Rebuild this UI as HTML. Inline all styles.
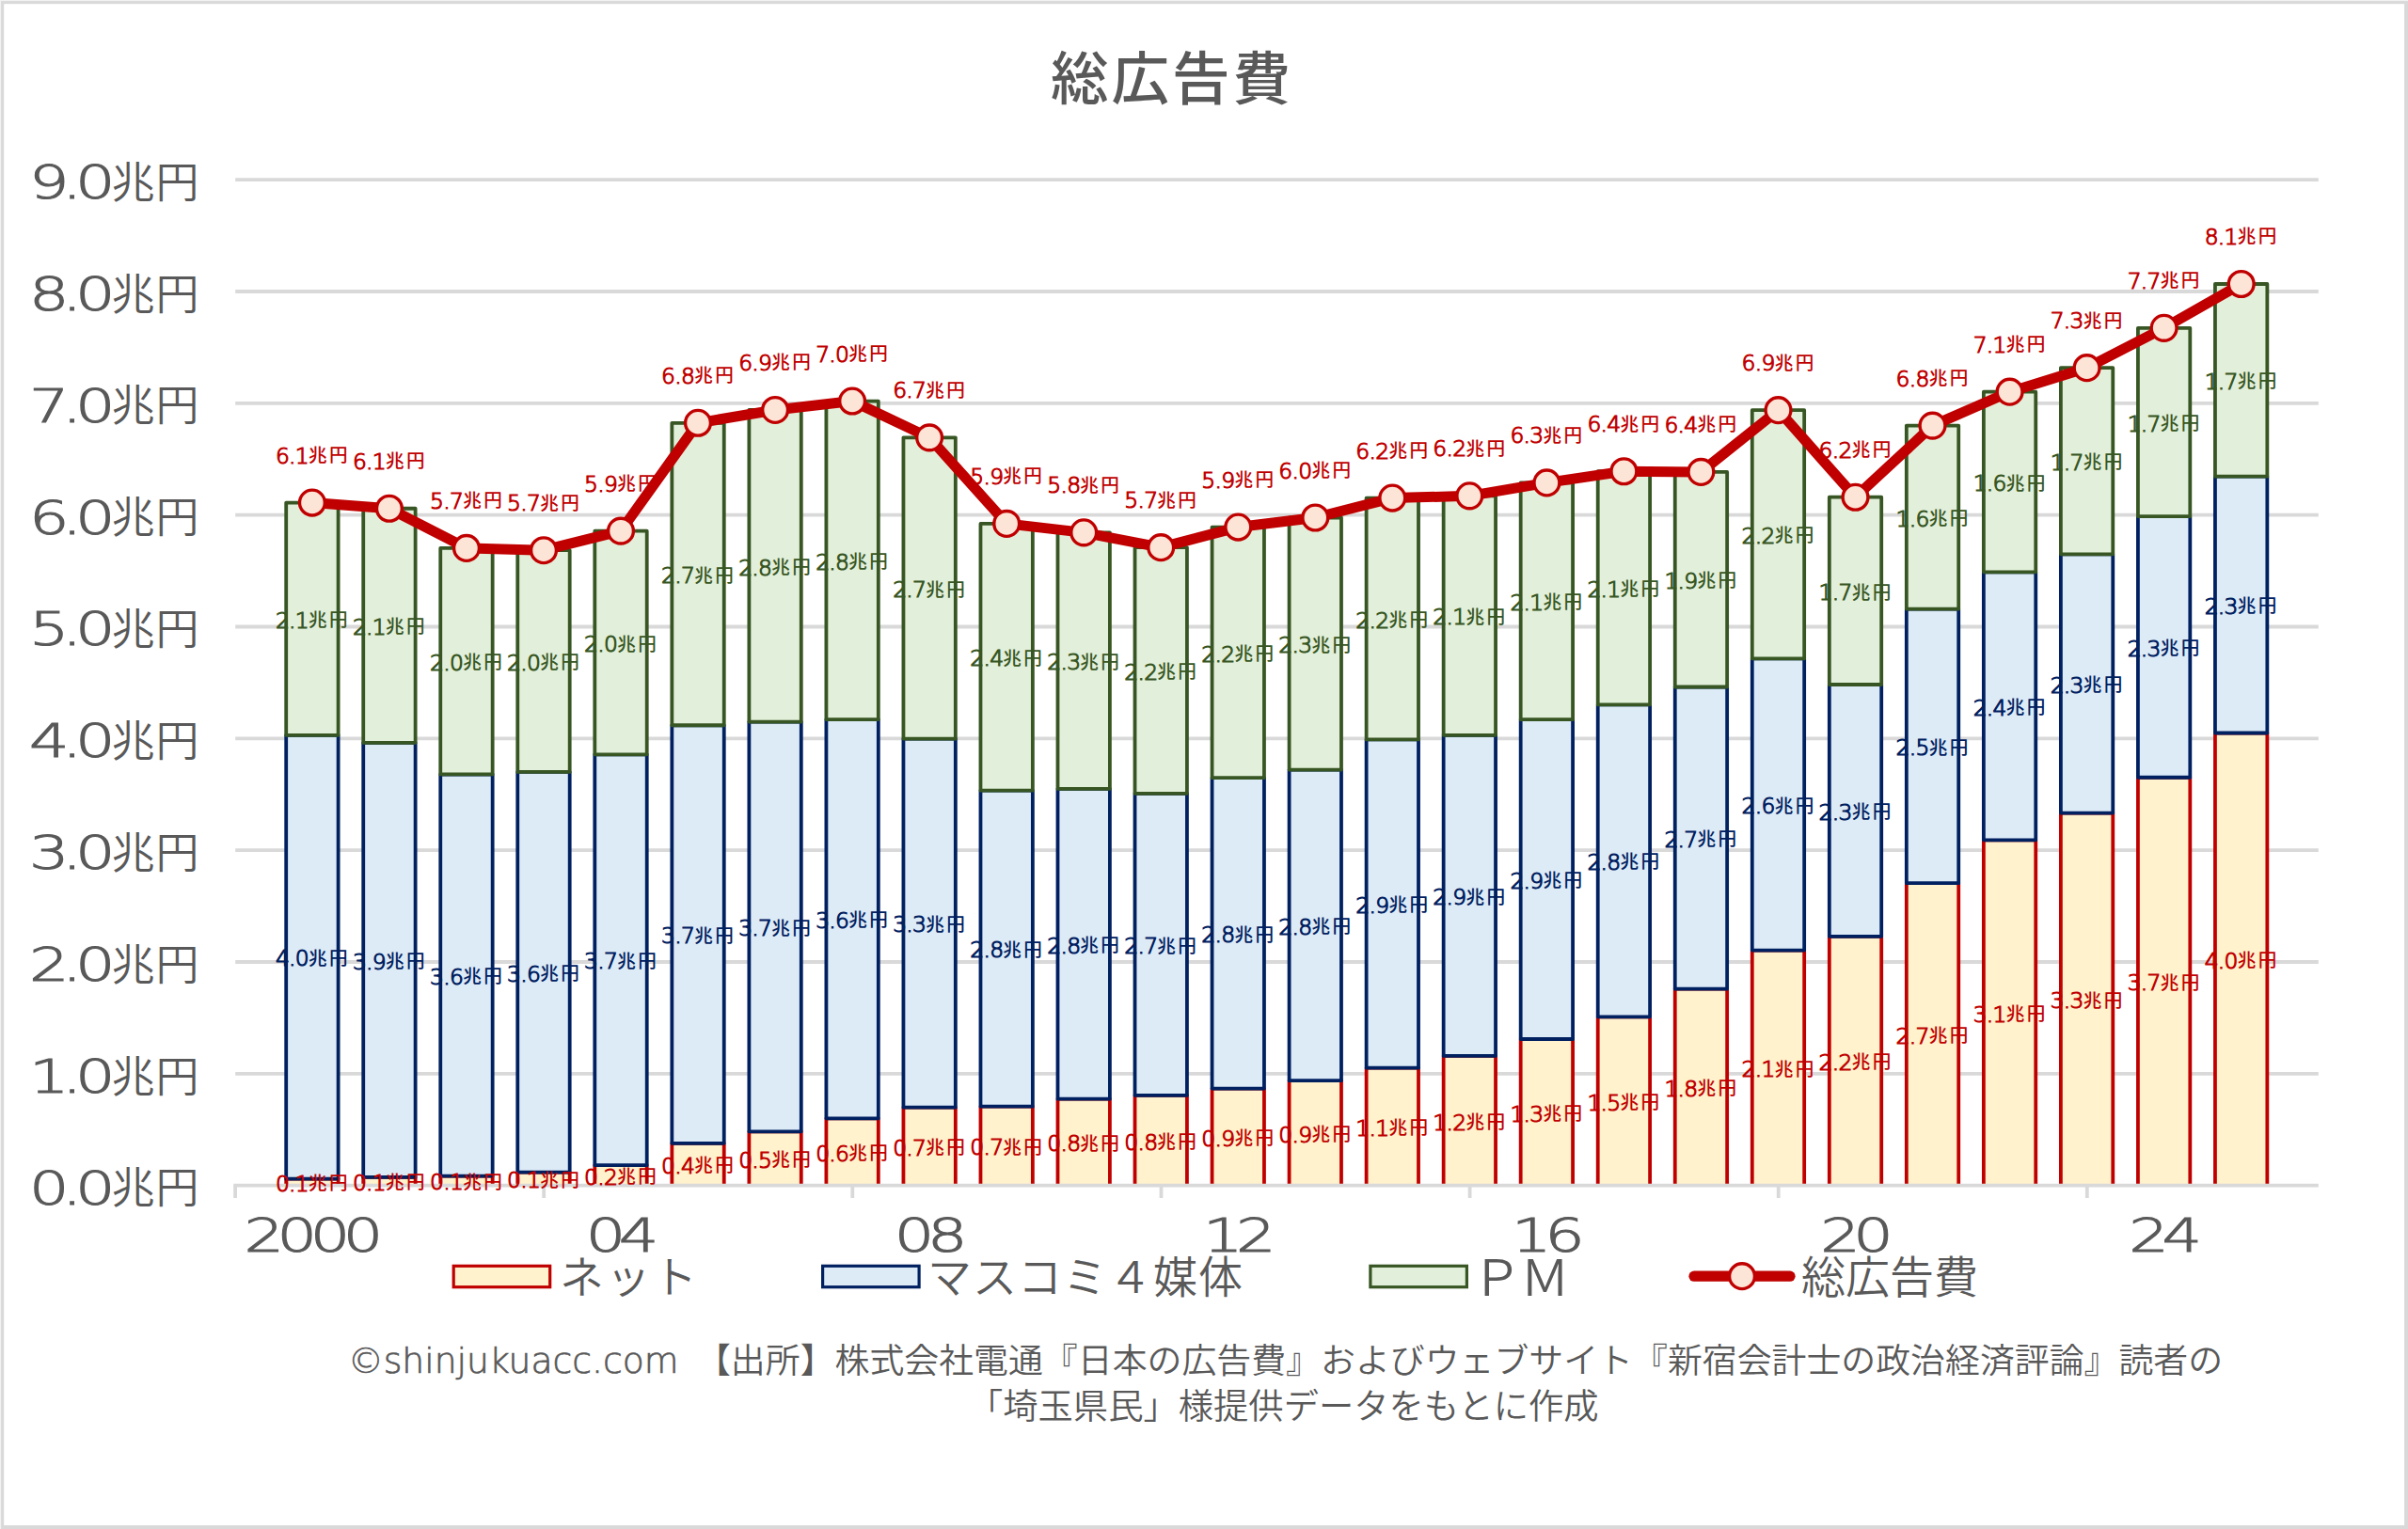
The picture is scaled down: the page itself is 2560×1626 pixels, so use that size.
<!DOCTYPE html>
<html lang="ja"><head><meta charset="utf-8"><title>総広告費</title>
<style>
html,body{margin:0;padding:0;background:#fff}
body{width:2560px;height:1626px;overflow:hidden}
svg{display:block}
text{font-family:"Liberation Sans", "Noto Sans CJK JP", sans-serif;font-weight:350}
.d{font-family:"DejaVu Sans", "Liberation Sans", "Noto Sans CJK JP", sans-serif;font-weight:200}
.ax{fill:#595959}
.ax .d{font-size:50.3px;stroke:#595959;stroke-width:1.1px}
.ax .k{font-size:46px;letter-spacing:1px}
.dl{text-anchor:middle}
.dl .d{font-size:23.4px;stroke-width:1.1px;letter-spacing:-0.7px}
.dl .k{font-size:19.6px;letter-spacing:2.4px;font-weight:500}
.r{fill:#C00000}.r .d{stroke:#C00000}
.b{fill:#002060}.b .d{stroke:#002060}
.g{fill:#375623}.g .d{stroke:#375623}
.lg{font-size:47px;fill:#595959}
.fn{font-size:36.9px;fill:#595959;text-anchor:middle}
.fn .d{font-size:37.7px;stroke:#595959;stroke-width:0.7px}
</style>
</head><body>
<svg width="2560" height="1626" viewBox="0 0 2560 1626">
<rect x="0" y="0" width="2560" height="1626" fill="#D9D9D9"/>
<rect x="0" y="0" width="2560" height="1.1" fill="#F2F2F2"/><rect x="0" y="0" width="1.1" height="1626" fill="#F2F2F2"/>
<rect x="4.2" y="4.2" width="2551.9" height="1617.9" fill="#fff"/>
<text x="1246" y="105.5" text-anchor="middle" font-size="61.5" letter-spacing="3" style="font-weight:500" fill="#595959">総広告費</text>
<g stroke="#D9D9D9" stroke-width="3.85">
<line x1="250.2" x2="2464.8" y1="1141.86" y2="1141.86"/>
<line x1="250.2" x2="2464.8" y1="1023.02" y2="1023.02"/>
<line x1="250.2" x2="2464.8" y1="904.18" y2="904.18"/>
<line x1="250.2" x2="2464.8" y1="785.34" y2="785.34"/>
<line x1="250.2" x2="2464.8" y1="666.50" y2="666.50"/>
<line x1="250.2" x2="2464.8" y1="547.66" y2="547.66"/>
<line x1="250.2" x2="2464.8" y1="428.82" y2="428.82"/>
<line x1="250.2" x2="2464.8" y1="309.98" y2="309.98"/>
<line x1="250.2" x2="2464.8" y1="191.14" y2="191.14"/>
</g>
<g class="ax">
<text class="d" transform="translate(115.0,1280.6) scale(1.33,1)" text-anchor="end" letter-spacing="-5.6">0.0</text><text class="k" x="118.5" y="1279.3">兆円</text>
<text class="d" transform="translate(115.0,1161.8) scale(1.33,1)" text-anchor="end" letter-spacing="-5.6">1.0</text><text class="k" x="118.5" y="1160.5">兆円</text>
<text class="d" transform="translate(115.0,1042.9) scale(1.33,1)" text-anchor="end" letter-spacing="-5.6">2.0</text><text class="k" x="118.5" y="1041.6">兆円</text>
<text class="d" transform="translate(115.0,924.1) scale(1.33,1)" text-anchor="end" letter-spacing="-5.6">3.0</text><text class="k" x="118.5" y="922.8">兆円</text>
<text class="d" transform="translate(115.0,805.2) scale(1.33,1)" text-anchor="end" letter-spacing="-5.6">4.0</text><text class="k" x="118.5" y="803.9">兆円</text>
<text class="d" transform="translate(115.0,686.4) scale(1.33,1)" text-anchor="end" letter-spacing="-5.6">5.0</text><text class="k" x="118.5" y="685.1">兆円</text>
<text class="d" transform="translate(115.0,567.6) scale(1.33,1)" text-anchor="end" letter-spacing="-5.6">6.0</text><text class="k" x="118.5" y="566.3">兆円</text>
<text class="d" transform="translate(115.0,448.7) scale(1.33,1)" text-anchor="end" letter-spacing="-5.6">7.0</text><text class="k" x="118.5" y="447.4">兆円</text>
<text class="d" transform="translate(115.0,329.9) scale(1.33,1)" text-anchor="end" letter-spacing="-5.6">8.0</text><text class="k" x="118.5" y="328.6">兆円</text>
<text class="d" transform="translate(115.0,211.0) scale(1.33,1)" text-anchor="end" letter-spacing="-5.6">9.0</text><text class="k" x="118.5" y="209.7">兆円</text>
</g>
<defs><clipPath id="pc"><rect x="240" y="150" width="2240" height="1111.00"/></clipPath></defs>
<g clip-path="url(#pc)" stroke-width="3.8" stroke-linejoin="round">
<g fill="#FFF2CC" stroke="#C00000">
<rect x="304.20" y="1253.69" width="55.40" height="13.01"/>
<rect x="386.23" y="1251.97" width="55.40" height="14.73"/>
<rect x="468.26" y="1250.66" width="55.40" height="16.04"/>
<rect x="550.29" y="1246.64" width="55.40" height="20.06"/>
<rect x="632.32" y="1239.14" width="55.40" height="27.56"/>
<rect x="714.35" y="1215.81" width="55.40" height="50.89"/>
<rect x="796.38" y="1203.35" width="55.40" height="63.35"/>
<rect x="878.41" y="1189.36" width="55.40" height="77.34"/>
<rect x="960.44" y="1177.71" width="55.40" height="88.99"/>
<rect x="1042.47" y="1176.69" width="55.40" height="90.01"/>
<rect x="1124.50" y="1168.63" width="55.40" height="98.07"/>
<rect x="1206.53" y="1164.89" width="55.40" height="101.81"/>
<rect x="1288.56" y="1157.55" width="55.40" height="109.15"/>
<rect x="1370.59" y="1149.22" width="55.40" height="117.48"/>
<rect x="1452.62" y="1135.69" width="55.40" height="131.01"/>
<rect x="1534.65" y="1122.92" width="55.40" height="143.78"/>
<rect x="1616.68" y="1105.02" width="55.40" height="161.68"/>
<rect x="1698.71" y="1081.32" width="55.40" height="185.38"/>
<rect x="1780.74" y="1051.67" width="55.40" height="215.03"/>
<rect x="1862.77" y="1010.57" width="55.40" height="256.13"/>
<rect x="1944.80" y="995.81" width="55.40" height="270.89"/>
<rect x="2026.83" y="939.21" width="55.40" height="327.49"/>
<rect x="2108.86" y="893.34" width="55.40" height="373.36"/>
<rect x="2190.89" y="864.61" width="55.40" height="402.09"/>
<rect x="2272.92" y="826.73" width="55.40" height="439.97"/>
<rect x="2354.95" y="779.52" width="55.40" height="487.18"/>
</g><g fill="#DDEBF7" stroke="#002060">
<rect x="304.20" y="781.81" width="55.40" height="471.88"/>
<rect x="386.23" y="789.84" width="55.40" height="462.12"/>
<rect x="468.26" y="823.48" width="55.40" height="427.18"/>
<rect x="550.29" y="820.93" width="55.40" height="425.71"/>
<rect x="632.32" y="802.29" width="55.40" height="436.86"/>
<rect x="714.35" y="771.26" width="55.40" height="444.56"/>
<rect x="796.38" y="767.59" width="55.40" height="435.76"/>
<rect x="878.41" y="765.11" width="55.40" height="424.25"/>
<rect x="960.44" y="785.60" width="55.40" height="392.11"/>
<rect x="1042.47" y="840.59" width="55.40" height="336.10"/>
<rect x="1124.50" y="838.87" width="55.40" height="329.77"/>
<rect x="1206.53" y="843.83" width="55.40" height="321.06"/>
<rect x="1288.56" y="827.22" width="55.40" height="330.33"/>
<rect x="1370.59" y="818.54" width="55.40" height="330.67"/>
<rect x="1452.62" y="786.39" width="55.40" height="349.31"/>
<rect x="1534.65" y="781.86" width="55.40" height="341.06"/>
<rect x="1616.68" y="765.18" width="55.40" height="339.83"/>
<rect x="1698.71" y="749.31" width="55.40" height="332.02"/>
<rect x="1780.74" y="730.50" width="55.40" height="321.18"/>
<rect x="1862.77" y="700.46" width="55.40" height="310.10"/>
<rect x="1944.80" y="727.99" width="55.40" height="267.82"/>
<rect x="2026.83" y="647.60" width="55.40" height="291.61"/>
<rect x="2108.86" y="608.30" width="55.40" height="285.04"/>
<rect x="2190.89" y="589.36" width="55.40" height="275.25"/>
<rect x="2272.92" y="549.09" width="55.40" height="277.65"/>
<rect x="2354.95" y="506.66" width="55.40" height="272.86"/>
</g><g fill="#E2EFDA" stroke="#375623">
<rect x="304.20" y="534.56" width="55.40" height="247.25"/>
<rect x="386.23" y="540.77" width="55.40" height="249.08"/>
<rect x="468.26" y="582.93" width="55.40" height="240.54"/>
<rect x="550.29" y="585.20" width="55.40" height="235.73"/>
<rect x="632.32" y="564.64" width="55.40" height="237.64"/>
<rect x="714.35" y="449.80" width="55.40" height="321.46"/>
<rect x="796.38" y="435.96" width="55.40" height="331.62"/>
<rect x="878.41" y="426.55" width="55.40" height="338.56"/>
<rect x="960.44" y="465.35" width="55.40" height="320.25"/>
<rect x="1042.47" y="556.91" width="55.40" height="283.68"/>
<rect x="1124.50" y="566.35" width="55.40" height="272.51"/>
<rect x="1206.53" y="582.17" width="55.40" height="261.66"/>
<rect x="1288.56" y="560.58" width="55.40" height="266.64"/>
<rect x="1370.59" y="550.49" width="55.40" height="268.06"/>
<rect x="1452.62" y="529.57" width="55.40" height="256.81"/>
<rect x="1534.65" y="527.34" width="55.40" height="254.52"/>
<rect x="1616.68" y="513.43" width="55.40" height="251.75"/>
<rect x="1698.71" y="501.23" width="55.40" height="248.08"/>
<rect x="1780.74" y="501.91" width="55.40" height="228.59"/>
<rect x="1862.77" y="436.18" width="55.40" height="264.29"/>
<rect x="1944.80" y="528.72" width="55.40" height="199.27"/>
<rect x="2026.83" y="452.61" width="55.40" height="194.99"/>
<rect x="2108.86" y="416.69" width="55.40" height="191.62"/>
<rect x="2190.89" y="391.18" width="55.40" height="198.18"/>
<rect x="2272.92" y="348.84" width="55.40" height="200.25"/>
<rect x="2354.95" y="302.02" width="55.40" height="204.64"/>
</g></g>
<g stroke="#D9D9D9" stroke-width="3.8">
<line x1="248.3" x2="2464.8" y1="1260.6" y2="1260.6"/>
<line x1="250.1" x2="250.1" y1="1260.6" y2="1274"/>
<line x1="578.2" x2="578.2" y1="1260.6" y2="1274"/>
<line x1="906.3" x2="906.3" y1="1260.6" y2="1274"/>
<line x1="1234.5" x2="1234.5" y1="1260.6" y2="1274"/>
<line x1="1562.6" x2="1562.6" y1="1260.6" y2="1274"/>
<line x1="1890.7" x2="1890.7" y1="1260.6" y2="1274"/>
<line x1="2218.8" x2="2218.8" y1="1260.6" y2="1274"/>
</g>
<g class="dl r">
<text x="332.5" y="1266.9"><tspan class="d">0.1</tspan><tspan class="k" dy="-1.6">兆円</tspan></text>
<text x="414.5" y="1266.0"><tspan class="d">0.1</tspan><tspan class="k" dy="-1.6">兆円</tspan></text>
<text x="496.6" y="1265.4"><tspan class="d">0.1</tspan><tspan class="k" dy="-1.6">兆円</tspan></text>
<text x="578.6" y="1263.4"><tspan class="d">0.1</tspan><tspan class="k" dy="-1.6">兆円</tspan></text>
<text x="660.6" y="1259.6"><tspan class="d">0.2</tspan><tspan class="k" dy="-1.6">兆円</tspan></text>
<text x="742.6" y="1248.0"><tspan class="d">0.4</tspan><tspan class="k" dy="-1.6">兆円</tspan></text>
<text x="824.7" y="1241.7"><tspan class="d">0.5</tspan><tspan class="k" dy="-1.6">兆円</tspan></text>
<text x="906.7" y="1234.7"><tspan class="d">0.6</tspan><tspan class="k" dy="-1.6">兆円</tspan></text>
<text x="988.7" y="1228.9"><tspan class="d">0.7</tspan><tspan class="k" dy="-1.6">兆円</tspan></text>
<text x="1070.8" y="1228.4"><tspan class="d">0.7</tspan><tspan class="k" dy="-1.6">兆円</tspan></text>
<text x="1152.8" y="1224.4"><tspan class="d">0.8</tspan><tspan class="k" dy="-1.6">兆円</tspan></text>
<text x="1234.8" y="1222.5"><tspan class="d">0.8</tspan><tspan class="k" dy="-1.6">兆円</tspan></text>
<text x="1316.9" y="1218.8"><tspan class="d">0.9</tspan><tspan class="k" dy="-1.6">兆円</tspan></text>
<text x="1398.9" y="1214.7"><tspan class="d">0.9</tspan><tspan class="k" dy="-1.6">兆円</tspan></text>
<text x="1480.9" y="1207.9"><tspan class="d">1.1</tspan><tspan class="k" dy="-1.6">兆円</tspan></text>
<text x="1562.9" y="1201.5"><tspan class="d">1.2</tspan><tspan class="k" dy="-1.6">兆円</tspan></text>
<text x="1645.0" y="1192.6"><tspan class="d">1.3</tspan><tspan class="k" dy="-1.6">兆円</tspan></text>
<text x="1727.0" y="1180.7"><tspan class="d">1.5</tspan><tspan class="k" dy="-1.6">兆円</tspan></text>
<text x="1809.0" y="1165.9"><tspan class="d">1.8</tspan><tspan class="k" dy="-1.6">兆円</tspan></text>
<text x="1891.1" y="1145.3"><tspan class="d">2.1</tspan><tspan class="k" dy="-1.6">兆円</tspan></text>
<text x="1973.1" y="1138.0"><tspan class="d">2.2</tspan><tspan class="k" dy="-1.6">兆円</tspan></text>
<text x="2055.1" y="1109.7"><tspan class="d">2.7</tspan><tspan class="k" dy="-1.6">兆円</tspan></text>
<text x="2137.2" y="1086.7"><tspan class="d">3.1</tspan><tspan class="k" dy="-1.6">兆円</tspan></text>
<text x="2219.2" y="1072.4"><tspan class="d">3.3</tspan><tspan class="k" dy="-1.6">兆円</tspan></text>
<text x="2301.2" y="1053.4"><tspan class="d">3.7</tspan><tspan class="k" dy="-1.6">兆円</tspan></text>
<text x="2383.2" y="1029.8"><tspan class="d">4.0</tspan><tspan class="k" dy="-1.6">兆円</tspan></text>
</g><g class="dl b">
<text x="332.5" y="1027.4"><tspan class="d">4.0</tspan><tspan class="k" dy="-1.6">兆円</tspan></text>
<text x="414.5" y="1030.6"><tspan class="d">3.9</tspan><tspan class="k" dy="-1.6">兆円</tspan></text>
<text x="496.6" y="1046.8"><tspan class="d">3.6</tspan><tspan class="k" dy="-1.6">兆円</tspan></text>
<text x="578.6" y="1043.5"><tspan class="d">3.6</tspan><tspan class="k" dy="-1.6">兆円</tspan></text>
<text x="660.6" y="1030.4"><tspan class="d">3.7</tspan><tspan class="k" dy="-1.6">兆円</tspan></text>
<text x="742.6" y="1003.2"><tspan class="d">3.7</tspan><tspan class="k" dy="-1.6">兆円</tspan></text>
<text x="824.7" y="995.2"><tspan class="d">3.7</tspan><tspan class="k" dy="-1.6">兆円</tspan></text>
<text x="906.7" y="986.9"><tspan class="d">3.6</tspan><tspan class="k" dy="-1.6">兆円</tspan></text>
<text x="988.7" y="991.4"><tspan class="d">3.3</tspan><tspan class="k" dy="-1.6">兆円</tspan></text>
<text x="1070.8" y="1018.3"><tspan class="d">2.8</tspan><tspan class="k" dy="-1.6">兆円</tspan></text>
<text x="1152.8" y="1013.5"><tspan class="d">2.8</tspan><tspan class="k" dy="-1.6">兆円</tspan></text>
<text x="1234.8" y="1014.1"><tspan class="d">2.7</tspan><tspan class="k" dy="-1.6">兆円</tspan></text>
<text x="1316.9" y="1002.1"><tspan class="d">2.8</tspan><tspan class="k" dy="-1.6">兆円</tspan></text>
<text x="1398.9" y="993.6"><tspan class="d">2.8</tspan><tspan class="k" dy="-1.6">兆円</tspan></text>
<text x="1480.9" y="970.7"><tspan class="d">2.9</tspan><tspan class="k" dy="-1.6">兆円</tspan></text>
<text x="1562.9" y="962.1"><tspan class="d">2.9</tspan><tspan class="k" dy="-1.6">兆円</tspan></text>
<text x="1645.0" y="944.8"><tspan class="d">2.9</tspan><tspan class="k" dy="-1.6">兆円</tspan></text>
<text x="1727.0" y="925.0"><tspan class="d">2.8</tspan><tspan class="k" dy="-1.6">兆円</tspan></text>
<text x="1809.0" y="900.8"><tspan class="d">2.7</tspan><tspan class="k" dy="-1.6">兆円</tspan></text>
<text x="1891.1" y="865.2"><tspan class="d">2.6</tspan><tspan class="k" dy="-1.6">兆円</tspan></text>
<text x="1973.1" y="871.6"><tspan class="d">2.3</tspan><tspan class="k" dy="-1.6">兆円</tspan></text>
<text x="2055.1" y="803.1"><tspan class="d">2.5</tspan><tspan class="k" dy="-1.6">兆円</tspan></text>
<text x="2137.2" y="760.5"><tspan class="d">2.4</tspan><tspan class="k" dy="-1.6">兆円</tspan></text>
<text x="2219.2" y="736.7"><tspan class="d">2.3</tspan><tspan class="k" dy="-1.6">兆円</tspan></text>
<text x="2301.2" y="697.6"><tspan class="d">2.3</tspan><tspan class="k" dy="-1.6">兆円</tspan></text>
<text x="2383.2" y="652.8"><tspan class="d">2.3</tspan><tspan class="k" dy="-1.6">兆円</tspan></text>
</g><g class="dl g">
<text x="332.5" y="667.9"><tspan class="d">2.1</tspan><tspan class="k" dy="-1.6">兆円</tspan></text>
<text x="414.5" y="675.0"><tspan class="d">2.1</tspan><tspan class="k" dy="-1.6">兆円</tspan></text>
<text x="496.6" y="712.9"><tspan class="d">2.0</tspan><tspan class="k" dy="-1.6">兆円</tspan></text>
<text x="578.6" y="712.8"><tspan class="d">2.0</tspan><tspan class="k" dy="-1.6">兆円</tspan></text>
<text x="660.6" y="693.2"><tspan class="d">2.0</tspan><tspan class="k" dy="-1.6">兆円</tspan></text>
<text x="742.6" y="620.2"><tspan class="d">2.7</tspan><tspan class="k" dy="-1.6">兆円</tspan></text>
<text x="824.7" y="611.5"><tspan class="d">2.8</tspan><tspan class="k" dy="-1.6">兆円</tspan></text>
<text x="906.7" y="605.5"><tspan class="d">2.8</tspan><tspan class="k" dy="-1.6">兆円</tspan></text>
<text x="988.7" y="635.2"><tspan class="d">2.7</tspan><tspan class="k" dy="-1.6">兆円</tspan></text>
<text x="1070.8" y="708.4"><tspan class="d">2.4</tspan><tspan class="k" dy="-1.6">兆円</tspan></text>
<text x="1152.8" y="712.3"><tspan class="d">2.3</tspan><tspan class="k" dy="-1.6">兆円</tspan></text>
<text x="1234.8" y="722.7"><tspan class="d">2.2</tspan><tspan class="k" dy="-1.6">兆円</tspan></text>
<text x="1316.9" y="703.6"><tspan class="d">2.2</tspan><tspan class="k" dy="-1.6">兆円</tspan></text>
<text x="1398.9" y="694.2"><tspan class="d">2.3</tspan><tspan class="k" dy="-1.6">兆円</tspan></text>
<text x="1480.9" y="667.7"><tspan class="d">2.2</tspan><tspan class="k" dy="-1.6">兆円</tspan></text>
<text x="1562.9" y="664.3"><tspan class="d">2.1</tspan><tspan class="k" dy="-1.6">兆円</tspan></text>
<text x="1645.0" y="649.0"><tspan class="d">2.1</tspan><tspan class="k" dy="-1.6">兆円</tspan></text>
<text x="1727.0" y="635.0"><tspan class="d">2.1</tspan><tspan class="k" dy="-1.6">兆円</tspan></text>
<text x="1809.0" y="625.9"><tspan class="d">1.9</tspan><tspan class="k" dy="-1.6">兆円</tspan></text>
<text x="1891.1" y="578.0"><tspan class="d">2.2</tspan><tspan class="k" dy="-1.6">兆円</tspan></text>
<text x="1973.1" y="638.1"><tspan class="d">1.7</tspan><tspan class="k" dy="-1.6">兆円</tspan></text>
<text x="2055.1" y="559.8"><tspan class="d">1.6</tspan><tspan class="k" dy="-1.6">兆円</tspan></text>
<text x="2137.2" y="522.2"><tspan class="d">1.6</tspan><tspan class="k" dy="-1.6">兆円</tspan></text>
<text x="2219.2" y="500.0"><tspan class="d">1.7</tspan><tspan class="k" dy="-1.6">兆円</tspan></text>
<text x="2301.2" y="458.7"><tspan class="d">1.7</tspan><tspan class="k" dy="-1.6">兆円</tspan></text>
<text x="2383.2" y="414.0"><tspan class="d">1.7</tspan><tspan class="k" dy="-1.6">兆円</tspan></text>
</g><g class="dl r">
<text x="332.5" y="492.6"><tspan class="d">6.1</tspan><tspan class="k" dy="-1.6">兆円</tspan></text>
<text x="414.5" y="498.8"><tspan class="d">6.1</tspan><tspan class="k" dy="-1.6">兆円</tspan></text>
<text x="496.6" y="540.9"><tspan class="d">5.7</tspan><tspan class="k" dy="-1.6">兆円</tspan></text>
<text x="578.6" y="543.2"><tspan class="d">5.7</tspan><tspan class="k" dy="-1.6">兆円</tspan></text>
<text x="660.6" y="522.6"><tspan class="d">5.9</tspan><tspan class="k" dy="-1.6">兆円</tspan></text>
<text x="742.6" y="407.8"><tspan class="d">6.8</tspan><tspan class="k" dy="-1.6">兆円</tspan></text>
<text x="824.7" y="394.0"><tspan class="d">6.9</tspan><tspan class="k" dy="-1.6">兆円</tspan></text>
<text x="906.7" y="384.6"><tspan class="d">7.0</tspan><tspan class="k" dy="-1.6">兆円</tspan></text>
<text x="988.7" y="423.4"><tspan class="d">6.7</tspan><tspan class="k" dy="-1.6">兆円</tspan></text>
<text x="1070.8" y="514.9"><tspan class="d">5.9</tspan><tspan class="k" dy="-1.6">兆円</tspan></text>
<text x="1152.8" y="524.4"><tspan class="d">5.8</tspan><tspan class="k" dy="-1.6">兆円</tspan></text>
<text x="1234.8" y="540.2"><tspan class="d">5.7</tspan><tspan class="k" dy="-1.6">兆円</tspan></text>
<text x="1316.9" y="518.6"><tspan class="d">5.9</tspan><tspan class="k" dy="-1.6">兆円</tspan></text>
<text x="1398.9" y="508.5"><tspan class="d">6.0</tspan><tspan class="k" dy="-1.6">兆円</tspan></text>
<text x="1480.9" y="487.6"><tspan class="d">6.2</tspan><tspan class="k" dy="-1.6">兆円</tspan></text>
<text x="1562.9" y="485.3"><tspan class="d">6.2</tspan><tspan class="k" dy="-1.6">兆円</tspan></text>
<text x="1645.0" y="471.4"><tspan class="d">6.3</tspan><tspan class="k" dy="-1.6">兆円</tspan></text>
<text x="1727.0" y="459.2"><tspan class="d">6.4</tspan><tspan class="k" dy="-1.6">兆円</tspan></text>
<text x="1809.0" y="459.9"><tspan class="d">6.4</tspan><tspan class="k" dy="-1.6">兆円</tspan></text>
<text x="1891.1" y="394.2"><tspan class="d">6.9</tspan><tspan class="k" dy="-1.6">兆円</tspan></text>
<text x="1973.1" y="486.7"><tspan class="d">6.2</tspan><tspan class="k" dy="-1.6">兆円</tspan></text>
<text x="2055.1" y="410.6"><tspan class="d">6.8</tspan><tspan class="k" dy="-1.6">兆円</tspan></text>
<text x="2137.2" y="374.7"><tspan class="d">7.1</tspan><tspan class="k" dy="-1.6">兆円</tspan></text>
<text x="2219.2" y="349.2"><tspan class="d">7.3</tspan><tspan class="k" dy="-1.6">兆円</tspan></text>
<text x="2301.2" y="306.8"><tspan class="d">7.7</tspan><tspan class="k" dy="-1.6">兆円</tspan></text>
<text x="2383.2" y="260.0"><tspan class="d">8.1</tspan><tspan class="k" dy="-1.6">兆円</tspan></text>
</g>
<polyline points="331.9,534.56 413.9,540.77 496.0,582.93 578.0,585.20 660.0,564.64 742.0,449.80 824.1,435.96 906.1,426.55 988.1,465.35 1070.2,556.91 1152.2,566.35 1234.2,582.17 1316.3,560.58 1398.3,550.49 1480.3,529.57 1562.3,527.34 1644.4,513.43 1726.4,501.23 1808.4,501.91 1890.5,436.18 1972.5,528.72 2054.5,452.61 2136.6,416.69 2218.6,391.18 2300.6,348.84 2382.7,302.02" fill="none" stroke="#C00000" stroke-width="11" stroke-linejoin="round" stroke-linecap="round"/>
<g fill="#FCE4D6" stroke="#C00000" stroke-width="3.35">
<circle cx="331.9" cy="534.56" r="13.4"/>
<circle cx="413.9" cy="540.77" r="13.4"/>
<circle cx="496.0" cy="582.93" r="13.4"/>
<circle cx="578.0" cy="585.20" r="13.4"/>
<circle cx="660.0" cy="564.64" r="13.4"/>
<circle cx="742.0" cy="449.80" r="13.4"/>
<circle cx="824.1" cy="435.96" r="13.4"/>
<circle cx="906.1" cy="426.55" r="13.4"/>
<circle cx="988.1" cy="465.35" r="13.4"/>
<circle cx="1070.2" cy="556.91" r="13.4"/>
<circle cx="1152.2" cy="566.35" r="13.4"/>
<circle cx="1234.2" cy="582.17" r="13.4"/>
<circle cx="1316.3" cy="560.58" r="13.4"/>
<circle cx="1398.3" cy="550.49" r="13.4"/>
<circle cx="1480.3" cy="529.57" r="13.4"/>
<circle cx="1562.3" cy="527.34" r="13.4"/>
<circle cx="1644.4" cy="513.43" r="13.4"/>
<circle cx="1726.4" cy="501.23" r="13.4"/>
<circle cx="1808.4" cy="501.91" r="13.4"/>
<circle cx="1890.5" cy="436.18" r="13.4"/>
<circle cx="1972.5" cy="528.72" r="13.4"/>
<circle cx="2054.5" cy="452.61" r="13.4"/>
<circle cx="2136.6" cy="416.69" r="13.4"/>
<circle cx="2218.6" cy="391.18" r="13.4"/>
<circle cx="2300.6" cy="348.84" r="13.4"/>
<circle cx="2382.7" cy="302.02" r="13.4"/>
</g>
<g class="ax" text-anchor="middle">
<text transform="translate(329.7,1331.0) scale(1.33,1)" class="d" letter-spacing="-5.6">2000</text>
<text transform="translate(657.8,1331.0) scale(1.33,1)" class="d" letter-spacing="-5.6">04</text>
<text transform="translate(985.9,1331.0) scale(1.33,1)" class="d" letter-spacing="-5.6">08</text>
<text transform="translate(1314.1,1331.0) scale(1.33,1)" class="d" letter-spacing="-5.6">12</text>
<text transform="translate(1642.2,1331.0) scale(1.33,1)" class="d" letter-spacing="-5.6">16</text>
<text transform="translate(1970.3,1331.0) scale(1.33,1)" class="d" letter-spacing="-5.6">20</text>
<text transform="translate(2298.4,1331.0) scale(1.33,1)" class="d" letter-spacing="-5.6">24</text>
</g>
<rect x="482.2" y="1346.3" width="102.5" height="22.4" fill="#FFF2CC" stroke="#C00000" stroke-width="3.2"/>
<text x="595" y="1375" class="lg" letter-spacing="2.5">ネット</text>
<rect x="874.6" y="1346.3" width="102.5" height="22.4" fill="#DDEBF7" stroke="#002060" stroke-width="3.2"/>
<text x="986" y="1375" class="lg" letter-spacing="1">マスコミ４媒体</text>
<rect x="1456.9" y="1346.3" width="102.5" height="22.4" fill="#E2EFDA" stroke="#375623" stroke-width="3.2"/>
<text x="1565" y="1378.2" class="lg" style="font-size:53px" letter-spacing="-2">ＰＭ</text>
<line x1="1801" x2="1903" y1="1357.2" y2="1357.2" stroke="#C00000" stroke-width="11.2" stroke-linecap="round"/>
<circle cx="1852" cy="1357.2" r="13.4" fill="#FCE4D6" stroke="#C00000" stroke-width="3.35"/>
<text x="1915" y="1375" class="lg">総広告費</text>
<text x="1366.6" y="1460" class="fn"><tspan class="d">©shinjukuacc.com</tspan>　【出所】株式会社電通『日本の広告費』およびウェブサイト『新宿会計士の政治経済評論』読者の</text>
<text x="1364.3" y="1509" class="fn" style="font-size:37.3px">「埼玉県民」様提供データをもとに作成</text>
</svg>
</body></html>
